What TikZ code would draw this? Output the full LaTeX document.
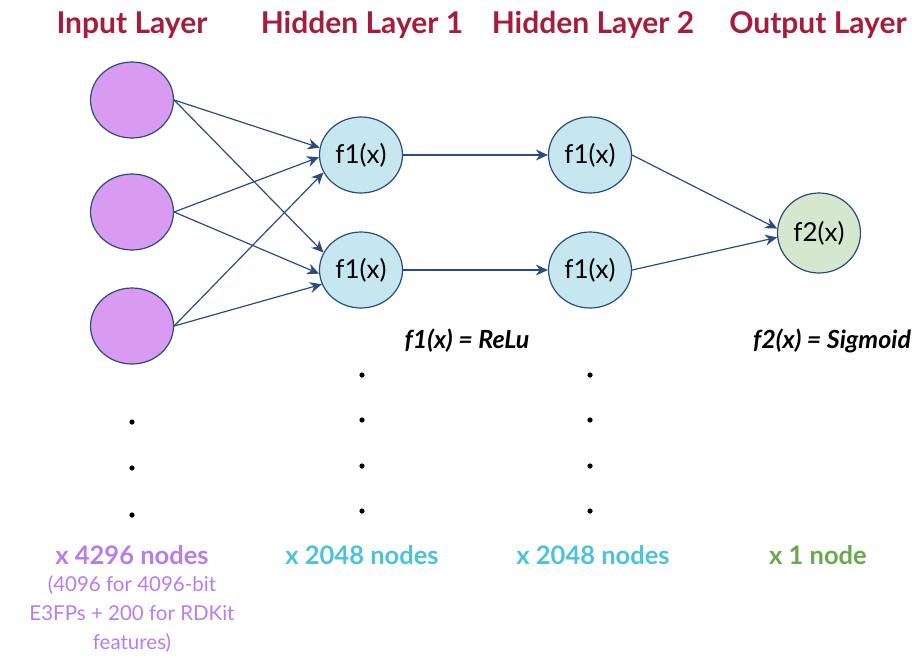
\documentclass[tikz,border=0pt]{standalone}
\usepackage{fontspec}
\setmainfont{Lato}
\usepackage{xcolor}
\usepackage{tikz}
\usetikzlibrary{positioning, arrows.meta, shapes.geometric}
\definecolor{net-line}{HTML}{2B4C7E}
\definecolor{net-purple}{HTML}{D99BF2}
\definecolor{net-blue}{HTML}{C6E7EF}
\definecolor{net-green}{HTML}{D6E7CF}
\definecolor{net-red}{HTML}{A61C3C}
\definecolor{net-lilac}{HTML}{B97CEB}
\definecolor{net-teal}{HTML}{4CC3D9}
\definecolor{net-leaf}{HTML}{6AA84F}

\tikzset{
    neuron/.style={ellipse, draw=net-line, line width=1.2pt, minimum width=83pt,
        minimum height=76pt, inner sep=0pt, font=\fontsize{26}{28}\selectfont},
    link/.style={net-line, line width=1.2pt, -{Stealth[length=12pt, width=11pt]}},
    layertitle/.style={font=\fontsize{30}{34}\selectfont\bfseries, text=net-red},
    countlabel/.style={font=\fontsize{25.5}{28}\selectfont\bfseries},
    fnlabel/.style={font=\fontsize{25}{28}\selectfont\bfseries\itshape}
}

\begin{document}
\begin{tikzpicture}[x=1pt, y=-1pt]
        \useasboundingbox (0,0) rectangle (912,657);
        \foreach \x/\t [count=\i] in {132/Input Layer, 362/Hidden Layer 1, 593/Hidden Layer 2, 818/Output Layer}
            \node[layertitle] (title\i) at (\x, 25) {\t};
        \foreach \y [count=\i] in {100, 212, 326}
            \node[neuron, fill=net-purple] (in\i) at (132, \y) {};
        \foreach \y/\r in {155/a, 270/b} {
            \node[neuron, fill=net-blue] (h1\r) at (361, \y) {f1(x)};
            \node[neuron, fill=net-blue] (h2\r) at (590, \y) {f1(x)};
            \draw[link] (h1\r.east) -- (h2\r.west);
        }
        \node[neuron, fill=net-green, minimum height=80pt] (out) at (819, 233) {f2(x)};
        \foreach \i/\a/\b in {1/170/155, 2/183/185, 3/205/200} {
            \draw[link] (in\i.east) -- (h1a.\a);
            \draw[link] (in\i.east) -- (h1b.\b);
        }
        \draw[link] (h2a.east) -- (out.174);
        \draw[link] (h2b.east) -- (out.186);
        \node[fnlabel] (relu) at (467, 341) {f1(x) = ReLu};
        \node[fnlabel] (sigmoid) at (832, 341) {f2(x) = Sigmoid};
        \foreach \y in {422, 468, 515}
            \fill (132, \y) circle (2.6pt);
        \foreach \x in {362, 590}
            \foreach \y in {375, 420, 466, 511}
                \fill (\x, \y) circle (2.6pt);
        \foreach \x/\c/\t [count=\i] in {132/net-lilac/x 4296 nodes, 362/net-teal/x 2048 nodes,
                593/net-teal/x 2048 nodes, 818/net-leaf/x 1 node}
            \node[countlabel, text=\c] (count\i) at (\x, 555) {\t};
        \node[font=\fontsize{20.5}{29}\selectfont, text=net-lilac, align=center]
            (innote) at (132, 614) {(4096 for 4096-bit\\E3FPs + 200 for RDKit\\features)};
    \end{tikzpicture}
\end{document}
